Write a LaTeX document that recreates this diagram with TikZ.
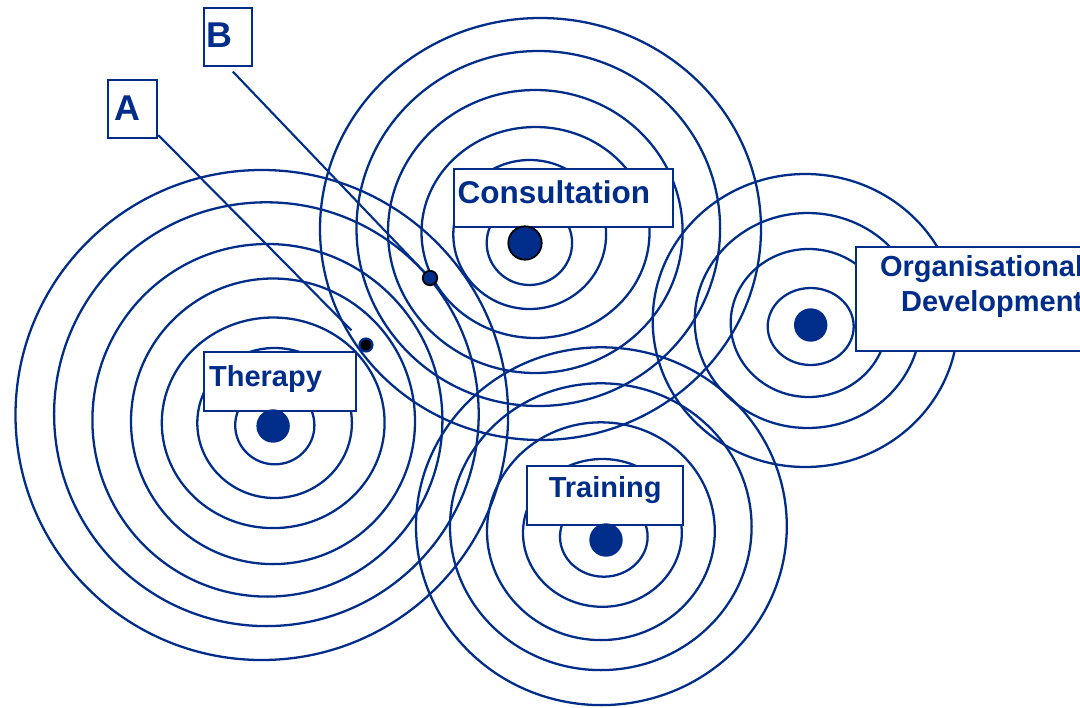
\documentclass[tikz,border=0pt]{standalone}
\usepackage{fontspec}
\setmainfont{Liberation Sans}
\usepackage{tikz}
\definecolor{ringblue}{RGB}{0,45,137}

\tikzset{
  ring/.style={draw=ringblue, line width=0.65pt},
  namebox/.style={draw=ringblue, fill=white, line width=0.65pt, text=ringblue,
    inner ysep=0pt, anchor=north west, font=\fontsize{8.25}{9.96}\selectfont\bfseries},
  hub/.style={circle, inner sep=0pt, minimum size=0.334cm, fill=ringblue}
}

\begin{document}
\begin{tikzpicture}
\useasboundingbox (0,0) rectangle (10.8,-7.07);
\clip (0,0) rectangle (10.8,-7.07);
% therapy
\draw [ring] (2.748,-4.253) ellipse [x radius=0.396, y radius=0.39];
\draw [ring] (2.746,-4.23) ellipse [x radius=0.773, y radius=0.75];
\draw [ring] (2.732,-4.228) ellipse [x radius=1.114, y radius=1.053];
\draw [ring] (2.73,-4.213) ellipse [x radius=1.42, y radius=1.428];
\draw [ring] (2.674,-4.203) ellipse [x radius=1.75, y radius=1.763];
\draw [ring] (2.664,-4.142) ellipse [x radius=2.123, y radius=2.119];
\draw [ring] (2.618,-4.15) ellipse [x radius=2.463, y radius=2.45];
% consultation
\draw [ring] (5.294,-2.43) ellipse [x radius=0.427, y radius=0.42];
\draw [ring] (5.297,-2.345) ellipse [x radius=0.764, y radius=0.745];
\draw [ring] (5.355,-2.325) ellipse [x radius=1.14, y radius=1.055];
\draw [ring] (5.353,-2.315) ellipse [x radius=1.473, y radius=1.415];
\draw [ring] (5.383,-2.285) ellipse [x radius=1.818, y radius=1.775];
\draw [ring] (5.405,-2.29) ellipse [x radius=2.205, y radius=2.11];
% organisational development
\draw [ring] (8.107,-3.265) ellipse [x radius=0.43, y radius=0.385];
\draw [ring] (8.087,-3.23) ellipse [x radius=0.78, y radius=0.74];
\draw [ring] (8.077,-3.205) ellipse [x radius=1.13, y radius=1.075];
\draw [ring] (8.053,-3.205) ellipse [x radius=1.526, y radius=1.465];
% training
\draw [ring] (6.038,-5.367) ellipse [x radius=0.438, y radius=0.40];
\draw [ring] (6.024,-5.329) ellipse [x radius=0.794, y radius=0.739];
\draw [ring] (6.009,-5.312) ellipse [x radius=1.139, y radius=1.089];
\draw [ring] (6.008,-5.267) ellipse [x radius=1.508, y radius=1.434];
\draw [ring] (6.014,-5.262) ellipse [x radius=1.854, y radius=1.789];

% labels
\node [namebox, text width=2.12cm, inner xsep=0.035cm, text height=0.346cm, text depth=0.234cm,
  font=\fontsize{8.96}{10.5}\selectfont\bfseries] (consult) at (4.53,-1.68) {Consultation};
\node [namebox, text width=1.42cm, inner xsep=0.05cm, text height=0.34cm, text depth=0.25cm]
  (therapy) at (2.03,-3.51) {Therapy};
\node [namebox, text width=1.50cm, inner xsep=0.03cm, text height=0.317cm, text depth=0.273cm,
  align=center] (training) at (5.26,-4.65) {Training};
\node [namebox, text width=2.17cm, inner xsep=0.10cm, text height=0.29cm, text depth=0.75cm,
  align=right] (orgdev) at (8.55,-2.46) {Organisational\\Development};
\node [namebox, text width=0.37cm, inner xsep=0.06cm, text height=0.40cm, text depth=0.18cm,
  font=\fontsize{10.2}{12}\selectfont\bfseries] (labA) at (1.07,-0.79) {A};
\node [namebox, text width=0.43cm, inner xsep=0.025cm, text height=0.397cm, text depth=0.183cm,
  font=\fontsize{10.2}{12}\selectfont\bfseries] (labB) at (2.03,-0.07) {B};

% centres
\node [hub] (thdot) at (2.731,-4.26) {};
\node [hub, draw=black, line width=0.5pt] (cndot) at (5.25,-2.43) {};
\node [hub] (oddot) at (8.107,-3.25) {};
\node [hub] (trdot) at (6.06,-5.40) {};
\node [circle, inner sep=0pt, minimum size=0.13cm, fill=black, draw=ringblue, line width=0.6pt]
  (ptA) at (3.66,-3.45) {};
\node [circle, inner sep=0pt, minimum size=0.145cm, fill=ringblue, draw=black, line width=0.5pt]
  (ptB) at (4.30,-2.78) {};

\draw [ringblue, line width=0.6pt, shorten >=0.13cm] (labA) -- (ptA);
\draw [ringblue, line width=0.6pt] ([shift={(0.047,-0.043)}]labB.south) -- (ptB);
\end{tikzpicture}
\end{document}
